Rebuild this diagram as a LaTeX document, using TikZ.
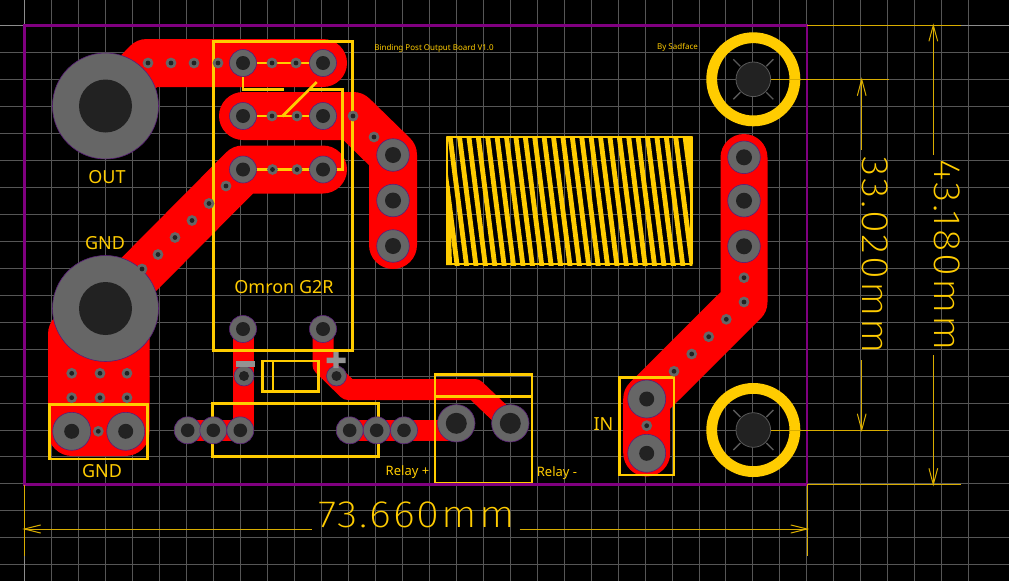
\documentclass[tikz,border=0pt]{standalone}
\usepackage{fontspec}
\setmainfont{Noto Sans}
\newfontfamily\dimfont[LetterSpace=5,FakeStretch=1.1]{Fira Sans ExtraLight}
\definecolor{silk}{HTML}{FFCC00}
\definecolor{padgray}{HTML}{666666}
\definecolor{holeblk}{HTML}{222222}
\definecolor{gridc}{HTML}{565656}
\definecolor{brd}{HTML}{800080}
\definecolor{padline}{HTML}{5A1E78}
\tikzset{
  cu/.style={draw=red,line width=#1,line cap=round,line join=round},
  silkline/.style={draw=silk,line width=2.7pt},
  dimline/.style={draw=silk!85!black,line width=1pt},
  lbl/.style={text=silk,font=\fontsize{18}{18}\selectfont,inner sep=0pt},
  lblsmall/.style={text=silk,font=\fontsize{13}{13}\selectfont,inner sep=0pt},
  lbltiny/.style={text=silk,font=\fontsize{8}{8}\selectfont,inner sep=0pt},
  dimtext/.style={text=silk,font=\fontsize{38}{38}\dimfont,inner sep=0pt},
  arrowh/.style={draw=silk!85!black,line width=1pt,line cap=round}
}
\newcommand{\padat}[4]{%
  \fill[padgray,draw=padline,line width=.6pt] (#1,#2) circle (#3);
  \fill[holeblk] (#1,#2) circle (#4);}
\newcommand{\viaat}[2]{%
  \fill[padgray] (#1,#2) circle (5.4);
  \fill[holeblk] (#1,#2) circle (2.4);}
\newcommand{\mounthole}[2]{%
  \draw[silk,line width=10.8pt] (#1,#2) circle (41.6);
  \draw[gray!70!black,line width=1.4pt] (#1-20,#2-20) -- (#1-13,#2-13) (#1+20,#2-20) -- (#1+13,#2-13)
     (#1-20,#2+20) -- (#1-13,#2+13) (#1+20,#2+20) -- (#1+13,#2+13);
  \fill[holeblk,draw=gray!70!black,line width=.8pt] (#1,#2) circle (17.3);}
\begin{document}
\begin{tikzpicture}[x=1pt,y=-1pt]
\fill[black] (0,0) rectangle (1009,581);
\useasboundingbox (0,0) rectangle (1009,581);
% grid
\foreach \k in {0,...,36} {\draw[gridc,line width=1pt] ({24.5+26.98*(\k-1)},0) -- ({24.5+26.98*(\k-1)},581);}
\foreach \k in {0,...,21} {\draw[gridc,line width=1pt] (0,{25.3+26.98*(\k-1)}) -- (1009,{25.3+26.98*(\k-1)});}
% origin axes
\draw[gray!90,line width=1pt] (24.5,0) -- (24.5,25.3) (0,25.3) -- (24.5,25.3) (24.5,556) -- (24.5,581) (961,25.3) -- (1009,25.3);
% copper
\path[cu=48pt] (105.5,106) -- (147,63) -- (323,63);
\path[cu=48pt] (243,116) -- (353,116) -- (393,155) -- (393,245);
\path[cu=48pt] (323,169.5) -- (243,169.5) -- (105.5,308);
\fill[red,rounded corners=24pt] (48,310) rectangle (149.5,456);
\path[cu=47pt] (744,157.5) -- (744,302) -- (646.7,399) -- (646.7,453);
\path[cu=21pt,line cap=butt] (243,329) -- (243,430);
\path[cu=21pt,line cap=butt] (188,430.5) -- (240,430.5);
\path[cu=21pt,line cap=butt] (349,430.5) -- (456,430.5);
\path[cu=21pt] (323,329) -- (323,365) -- (348,389.5) -- (475,389.5) -- (510,423);
% silk
\draw[silkline] (213.3,41.3) rectangle (352.3,350.3);
\draw[silkline] (243,63) -- (323,63);
\draw[silkline] (243,116) -- (323,116);
\draw[silkline] (243,63) -- (243,89.5) -- (284,89.5);
\draw[silkline] (243,169.5) -- (342.3,169.5) -- (342.3,89.5) -- (310,89.5);
\draw[silkline] (282.3,116.3) -- (316.7,82);
\draw[silkline] (49.4,404.3) rectangle (147.6,459);
\draw[silkline] (212.7,403.3) rectangle (378.7,456.3);
\draw[silkline] (262.3,361) rectangle (318.7,391.7) (273,361) -- (273,391.7);
\draw[silkline] (435,374.3) rectangle (532,483) (435,396.3) -- (532,396.3);
\draw[silkline] (619.3,377.7) rectangle (674,475);
% serpentine
\begin{scope}
\clip (446,136) rectangle (692.4,265);
\foreach \k in {0,...,27} {
  \draw[silk,line width=4.85pt] ({439.8+9.4*\k},130) -- ({439.8+9.4*\k+17.8},269);
}
\fill[silk] (446,186) -- (449.5,186) -- (452,265) -- (446,265) -- cycle;
\fill[silk] (692.4,136) -- (686,136) -- (689,186) -- (692.4,186) -- cycle;
\end{scope}
\draw[silk,line width=2.4pt,line join=round] (447,137) rectangle (691.4,264);
% pads
\padat{105.5}{106}{53}{26.5}
\padat{105.5}{308.5}{53}{26.5}
\foreach \y in {63,116,169.5} {\padat{243}{\y}{13.5}{7}\padat{323}{\y}{13.5}{7}}
\padat{243}{329}{13.5}{7}
\padat{323}{329}{13.5}{7}
\padat{393}{155}{16.3}{8}
\padat{393}{200.5}{16.3}{8}
\padat{393}{246}{16.3}{8}
\padat{744}{157.3}{16.3}{8}
\padat{744}{200.7}{16.3}{8}
\padat{744}{246.3}{16.3}{8}
\padat{71.7}{431.3}{19}{7.5}
\padat{125.7}{431.3}{19}{7.5}
\padat{456.3}{423.3}{18.7}{10.5}
\padat{510.3}{423.3}{18.7}{10.5}
\padat{646.7}{399}{19}{7.5}
\padat{646.7}{453.3}{19}{7.5}
\padat{187.7}{430.3}{13.5}{6.8}
\padat{213.3}{430.3}{13.5}{6.8}
\padat{240.3}{430.3}{13.5}{6.8}
\padat{349.7}{430.3}{13.5}{6.8}
\padat{376.7}{430.3}{13.5}{6.8}
\padat{404}{430.3}{13.5}{6.8}
\padat{244}{376}{10}{5}
\padat{336.5}{376}{10}{5}
% polarity marks
\fill[gray!85] (236,361) rectangle (255,366.5);
\fill[gray!85] (326.7,357.7) rectangle (345.7,363) (333.4,352) rectangle (338.7,368);
% vias
\foreach \x/\y in {148/63,171/63,194/63,218/63,272/63,296/63,272/116,297/116,353/116,374/137,
  272.5/169.5,297/169.5,226/186,209/203.5,192/220.5,175/237.5,158/254.5,142/269,
  71.7/373.3,100/373.3,127/373.3,71.7/397.7,100/397.7,127/397.7,98.3/431.3,
  646.7/425.7,744/277.7,744/302,726.3/319.3,708.7/336.7,691.7/354,674/371.3}
  {\viaat{\x}{\y}}
% mounting holes
\mounthole{753.3}{79.3}
\mounthole{753.3}{430}
% board outline
\draw[brd,line width=2.6pt] (24.5,25.3) rectangle (807,484.5);
% labels
\node[lbl] (out) at (107,177) {OUT};
\node[lbl] (gndtop) at (105,243) {GND};
\node[lbl] (omron) at (284,287) {Omron G2R};
\node[lbl] (gndbot) at (102,471) {GND};
\node[lbl] (in) at (603.5,424) {IN};
\node[lblsmall] (relp) at (407.5,472) {Relay +};
\node[lblsmall] (relm) at (557,473) {Relay -};
\node[lbltiny] (title) at (434,48) {Binding Post Output Board V1.0};
\node[lbltiny] (by) at (677.5,47.5) {By Sadface};
% dimensions
\draw[dimline] (24.5,484.5) -- (24.5,556) (807,484.5) -- (807,556);
\draw[dimline] (24.5,529) -- (312,529) (519.5,529) -- (807,529);
\draw[arrowh] (40.5,525) -- (24.5,529) -- (40.5,533) (791,525) -- (807,529) -- (791,533);
\node[dimtext] (d1) at (416.5,514.5) {73.660mm};
\draw[dimline] (807,25.3) -- (961,25.3) (807,484.5) -- (961,484.5);
\draw[dimline] (933.3,25.3) -- (933.3,155) (933.3,355) -- (933.3,484.5);
\draw[arrowh] (929,41) -- (933.3,25.3) -- (937.6,41) (929,468.5) -- (933.3,484.5) -- (937.6,468.5);
\node[dimtext,rotate=-90] (d2) at (947.5,255.5) {43.180mm};
\draw[dimline] (771,79.3) -- (889,79.3) (771,430) -- (889,430);
\draw[dimline] (861.7,79.3) -- (861.7,150) (861.7,360) -- (861.7,430);
\draw[arrowh] (857.4,95.5) -- (861.7,79.3) -- (866,95.5) (857.4,414) -- (861.7,430) -- (866,414);
\node[dimtext,rotate=-90] (d3) at (875.5,255.5) {33.020mm};
\end{tikzpicture}
\end{document}
